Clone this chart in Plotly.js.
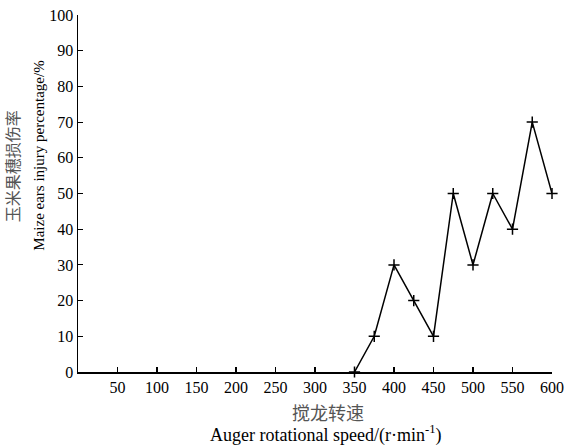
<!DOCTYPE html>
<html>
<head>
<meta charset="utf-8">
<script src="https://cdn.plot.ly/plotly-3.0.1.min.js"></script>
<style>html,body{margin:0;padding:0;background:#fff;}#chart{width:569px;height:448px;}</style>
</head>
<body>
<div id="chart"></div>
<script>
const speeds = [350, 375, 400, 425, 450, 475, 500, 525, 550, 575, 600];
const injury = [0, 10, 30, 20, 10, 50, 30, 50, 40, 70, 50];
const xTicks = [50, 100, 150, 200, 250, 300, 350, 400, 450, 500, 550, 600];
const yTicks = [0, 10, 20, 30, 40, 50, 60, 70, 80, 90, 100];
const xTitleZh = '搅龙转速';
const xTitleEn = 'Auger rotational speed/(r·min<sup>-1</sup>)';
const yTitleZh = '玉米果穗损伤率';
const yTitleEn = 'Maize ears injury percentage/%';

const serif = 'Liberation Serif, Times New Roman, serif';
const cjk = 'Noto Sans CJK SC, sans-serif';

const trace = {
  x: speeds, y: injury, type: 'scatter', mode: 'lines+markers',
  line: {color: '#000', width: 1.5},
  marker: {symbol: 'cross-thin-open', size: 8, color: '#000', line: {color: '#000', width: 1.5}},
  cliponaxis: false
};

const layout = {
  width: 569, height: 448,
  margin: {l: 78, r: 17, t: 15, b: 76},
  paper_bgcolor: '#fff', plot_bgcolor: '#fff',
  showlegend: false,
  font: {family: serif, size: 16, color: '#000'},
  xaxis: {
    range: [0, 600], tickvals: xTicks, ticktext: xTicks.map(String),
    ticks: 'inside', ticklen: 5, tickwidth: 1.2, tickcolor: '#000',
    showline: true, linecolor: '#000', linewidth: 1.5,
    showgrid: false, zeroline: false,
    tickfont: {family: serif, size: 16, color: '#000'}
  },
  yaxis: {
    range: [0, 100], tickvals: yTicks, ticktext: yTicks.map(String),
    ticks: 'inside', ticklen: 5, tickwidth: 1.2, tickcolor: '#000',
    showline: true, linecolor: '#000', linewidth: 1.5,
    showgrid: false, zeroline: false,
    tickfont: {family: serif, size: 16, color: '#000'}
  },
  annotations: [
    {text: xTitleZh, xref: 'paper', yref: 'paper', x: 0.527, y: -0.112, yanchor: 'middle', xanchor: 'center',
     showarrow: false, font: {family: cjk, size: 18, color: '#555'}},
    {text: xTitleEn, xref: 'paper', yref: 'paper', x: 0.522, y: -0.175, yanchor: 'middle', xanchor: 'center',
     showarrow: false, font: {family: serif, size: 18, color: '#000'}},
    {text: yTitleZh, xref: 'paper', yref: 'paper', x: -0.14, xanchor: 'center', y: 0.575, yanchor: 'middle',
     textangle: -90, showarrow: false, font: {family: cjk, size: 16, color: '#555'}},
    {text: yTitleEn, xref: 'paper', yref: 'paper', x: -0.083, xanchor: 'center', y: 0.605, yanchor: 'middle',
     textangle: -90, showarrow: false, font: {family: serif, size: 15, color: '#000'}}
  ]
};

Plotly.newPlot('chart', [trace], layout, {displayModeBar: false, staticPlot: true});
</script>
</body>
</html>
